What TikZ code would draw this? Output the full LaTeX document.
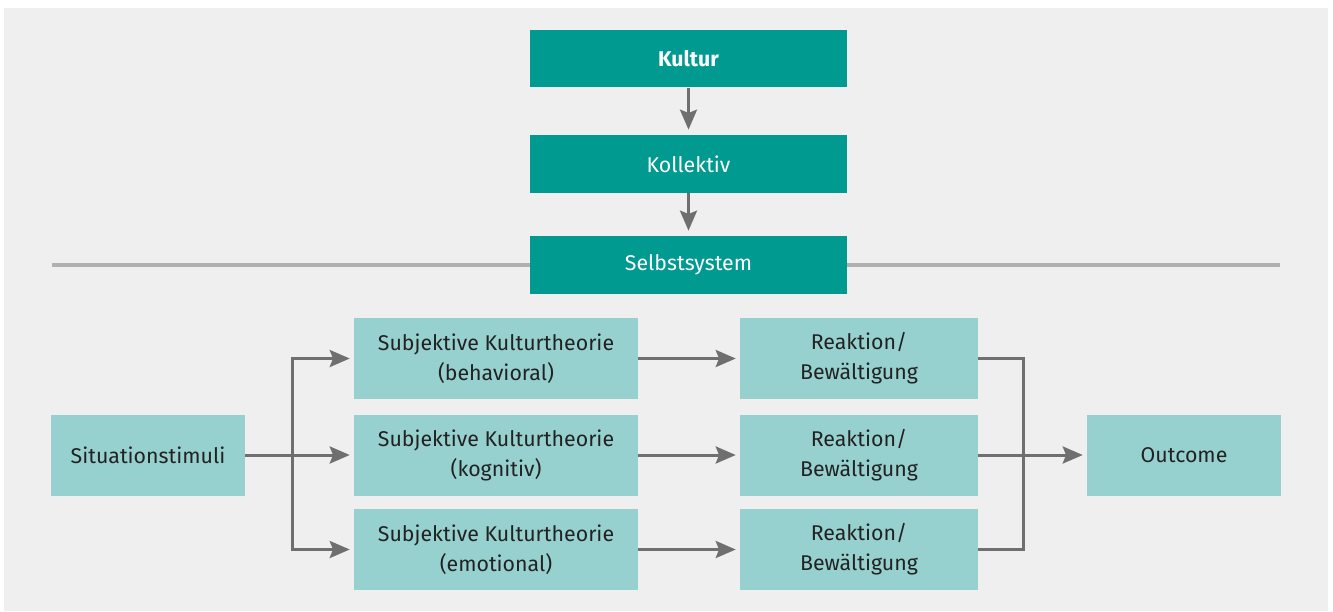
\documentclass[tikz,border=0pt]{standalone}
\usepackage{fontspec}
\setmainfont{Fira Sans}
\usetikzlibrary{arrows.meta,positioning}
\definecolor{panel}{HTML}{EFEFEF}
\definecolor{darkteal}{HTML}{009A90}
\definecolor{lightteal}{HTML}{96D1CF}
\definecolor{arrowgray}{HTML}{6F6F6F}
\definecolor{sepgray}{HTML}{B0B0B0}
\definecolor{txt}{HTML}{222222}
\tikzset{
  darkbox/.style={fill=darkteal, text=white, minimum width=237.75pt, minimum height=43.1pt, inner sep=0pt, font=\fontsize{16}{22.5}\selectfont, align=center},
  lightbox/.style={fill=lightteal, text=txt, minimum height=60.75pt, inner sep=0pt, font=\fontsize{16}{22.5}\selectfont, align=center},
  conn/.style={draw=arrowgray, line width=2.25pt},
  arr/.style={conn, -{Stealth[length=15pt,width=12.75pt,inset=2.5pt]}, shorten >=3pt},
}
\begin{document}
\begin{tikzpicture}[x=0.75pt,y=-0.75pt]
\useasboundingbox (0,0) rectangle (1333,611);
\fill[white] (0,0) rectangle (1333,611);
\fill[panel] (4,8) rectangle (1328,611);
% top column
\node[darkbox] (kultur) at (688.5,58.75) {\bfseries Kultur};
\node[darkbox] (koll) at (688.5,164) {Kollektiv};
\node[darkbox] (selbst) at (688.5,265) {Selbstsystem};
\coordinate (sepL) at (52,265);
\coordinate (sepR) at (1280,265);
\draw[sepgray, line width=3pt] (sepL) -- (selbst.west);
\draw[sepgray, line width=3pt] (selbst.east) -- (sepR);
\draw[arr, shorten >=4pt] (kultur) -- (koll);
\draw[arr, shorten >=4pt] (koll) -- (selbst);
% lower rows
\node[lightbox, minimum width=145.5pt] (sit) at (148,455) {Situationstimuli};
\node[lightbox, minimum width=213pt] (sub1) at (496,358.5) {Subjektive Kulturtheorie\\(behavioral)};
\node[lightbox, minimum width=213pt] (sub2) at (496,455) {Subjektive Kulturtheorie\\(kognitiv)};
\node[lightbox, minimum width=213pt] (sub3) at (496,549.5) {Subjektive Kulturtheorie\\(emotional)};
\node[lightbox, minimum width=178.5pt] (r1) at (859,358.5) {Reaktion/\\Bewältigung};
\node[lightbox, minimum width=178.5pt] (r2) at (859,455) {Reaktion/\\Bewältigung};
\node[lightbox, minimum width=178.5pt] (r3) at (859,549.5) {Reaktion/\\Bewältigung};
\node[lightbox, minimum width=145.5pt] (out) at (1184,455) {Outcome};
\coordinate (split) at (292,455);
\coordinate (merge) at (1023,455);
% connectors
\draw[arr] (sit) -- (sub2);
\draw[arr] (split) |- (sub1.west);
\draw[arr] (split) |- (sub3.west);
\draw[arr] (sub1) -- (r1);
\draw[arr] (sub2) -- (r2);
\draw[arr] (sub3) -- (r3);
\draw[conn] (r1.east) -| (merge);
\draw[conn] (r3.east) -| (merge);
\draw[arr] (r2) -- (out);
\end{tikzpicture}
\end{document}
